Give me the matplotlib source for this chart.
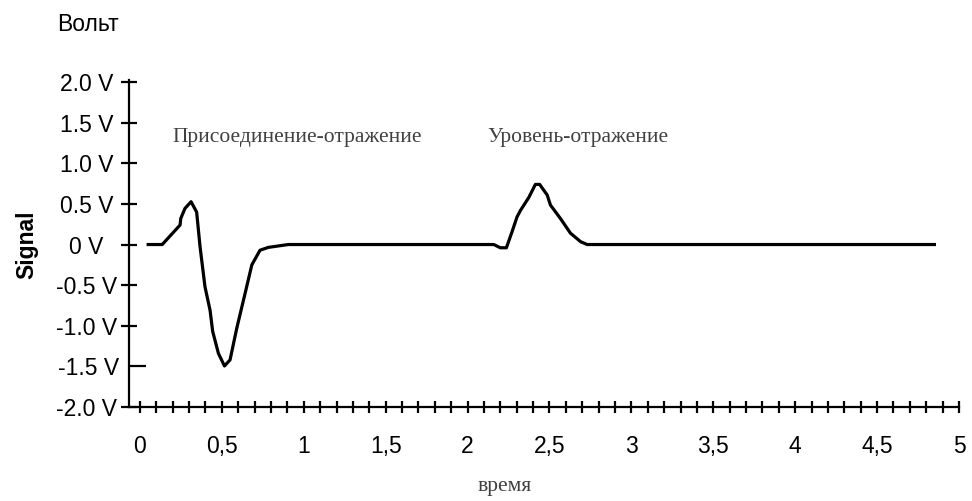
import numpy as np
import matplotlib
matplotlib.use("Agg")
import matplotlib.pyplot as plt
from matplotlib.ticker import FixedLocator, MultipleLocator, FixedFormatter

# reflectogram trace: time (units) vs signal (V)
t = [0.05, 0.136, 0.245, 0.249, 0.275, 0.312, 0.346, 0.367, 0.397, 0.428,
     0.444, 0.479, 0.516, 0.55, 0.591, 0.642, 0.683, 0.733, 0.784, 0.906,
     2.16, 2.2, 2.237, 2.272, 2.302, 2.323, 2.374, 2.414, 2.44, 2.486,
     2.506, 2.567, 2.628, 2.69, 2.73, 4.85]
signal = [0.0, 0.0, 0.24, 0.32, 0.445, 0.527, 0.40, -0.03, -0.52, -0.81,
          -1.07, -1.34, -1.495, -1.42, -1.03, -0.60, -0.25, -0.07, -0.035, 0.0,
          0.0, -0.04, -0.04, 0.16, 0.34, 0.42, 0.58, 0.74, 0.74, 0.61,
          0.486, 0.32, 0.14, 0.035, 0.0, 0.0]

y_major = [-2.0, -1.0, -0.5, 0.0, 0.5, 1.0, 1.5, 2.0]
y_major_labels = ["-2.0 V", "-1.0 V", "-0.5 V", "0 V", "0.5 V", "1.0 V", "1.5 V", "2.0 V"]
y_minor = [-1.5]
y_minor_labels = ["-1.5 V"]

x_major = [0, 0.5, 1, 1.5, 2, 2.5, 3, 3.5, 4, 4.5, 5]
x_major_labels = ["0", "0,5", "1", "1,5", "2", "2,5", "3", "3,5", "4", "4,5", "5"]

notes = [("Присоединение-отражение", 0.2), ("Уровень-отражение", 2.12)]

sans = ["Liberation Sans", "DejaVu Sans"]
serif = ["Liberation Serif", "DejaVu Serif"]
gray = "#404040"

fig = plt.figure(figsize=(9.72, 5.01), dpi=100)
ax = fig.add_axes([0.1327, 0.1876, 0.8539, 0.6527])

ax.plot(t, signal, color="black", lw=2.3, solid_joinstyle="round")

ax.set_xlim(-0.067, 5.0)
ax.set_ylim(-2.0, 2.025)

for s in ("top", "right"):
    ax.spines[s].set_visible(False)
for s in ("left", "bottom"):
    ax.spines[s].set_linewidth(1.6)

ax.xaxis.set_major_locator(FixedLocator(x_major))
ax.xaxis.set_major_formatter(FixedFormatter(x_major_labels))
ax.xaxis.set_minor_locator(MultipleLocator(0.1))
ax.tick_params(axis="x", which="both", direction="inout", length=8.5, width=1.6, pad=16)
ax.tick_params(axis="x", which="major", labelsize=16.5)

ax.yaxis.set_major_locator(FixedLocator(y_major))
ax.yaxis.set_major_formatter(FixedFormatter(y_major_labels))
ax.yaxis.set_minor_locator(FixedLocator(y_minor))
ax.yaxis.set_minor_formatter(FixedFormatter(y_minor_labels))
ax.tick_params(axis="y", which="major", direction="inout", length=11, width=1.6,
               pad=25, labelsize=16.5)
ax.tick_params(axis="y", which="minor", direction="in", length=12, width=1.6,
               pad=29, labelsize=16.5)

for lab in ax.get_xticklabels() + ax.get_yticklabels() + ax.get_yticklabels(minor=True):
    lab.set_family(sans)
for lab in ax.get_yticklabels() + ax.get_yticklabels(minor=True):
    lab.set_horizontalalignment("center")

for text, x0 in notes:
    ax.text(x0, 1.32, text, family=serif, fontsize=15.5, color=gray, va="center")

ax.set_xlabel("время", family=serif, fontsize=15.5, color=gray)
ax.xaxis.set_label_coords(0.453, -0.215)

fig.text(0.028, 0.512, "Signal", rotation=90, family=sans, fontsize=16.5,
         fontweight="bold", ha="center", va="center")
fig.text(0.0586, 0.952, "Вольт", family=sans, fontsize=16.5, ha="left", va="center")

fig.savefig("out.png", dpi=100)
